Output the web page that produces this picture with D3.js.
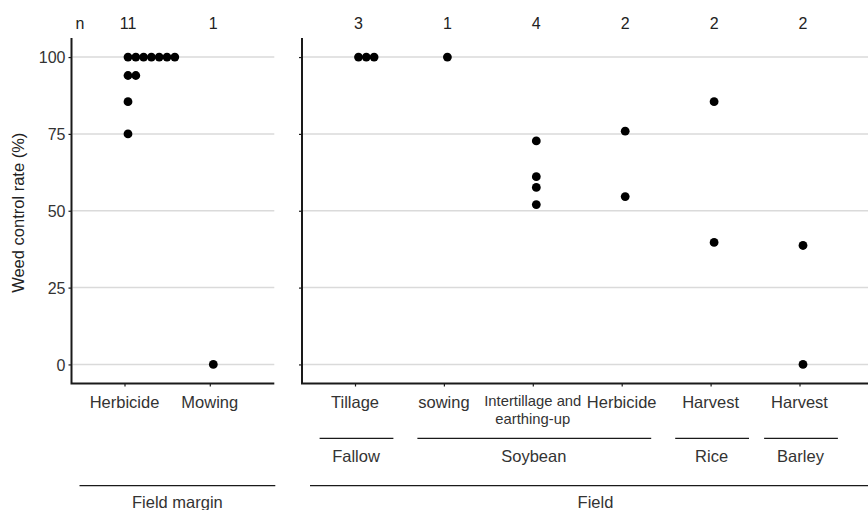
<!DOCTYPE html>
<html lang="en">
<head>
    <meta charset="UTF-8">
    <title>Weed control rate</title>
    <script src="https://cdn.jsdelivr.net/npm/d3@7"></script>
    <style>
    html, body { margin: 0; padding: 0; background: white; }
    svg { display: block; font-family: "Liberation Sans", Arial, sans-serif; }
    </style>
</head>
<body>
<div class="marco"></div>
<script>
// ---- data ----
const panelNames = ["Field margin", "Field"];

const marginLabels = ["Herbicide", "Mowing"];
const marginValues = [
    [100, 100, 100, 100, 100, 100, 100, 94, 94, 85.5, 75],
    [0]
];

const fieldLabels = ["Tillage", "sowing", "Intertillage and\nearthing-up", "Herbicide", "Harvest", "Harvest"];
const fieldValues = [
    [100, 100, 100],
    [100],
    [72.7, 61.1, 57.6, 52.0],
    [75.9, 54.6],
    [85.5, 39.7],
    [38.7, 0]
];

const groupNames = ["Fallow", "Soybean", "Rice", "Barley"];
const groupFirst = [0, 1, 4, 5];
const groupLast  = [0, 3, 4, 5];

const yTicks = [0, 25, 50, 75, 100];

// ---- layout ----
const width = 868, height = 510;
const plotTop = 38, plotBottom = 383.5;
const panels = [
    { x0: 71.5, x1: 274.3, step: 85.3, labels: marginLabels, values: marginValues },
    { x0: 302, x1: 880, step: 88.9, labels: fieldLabels, values: fieldValues }
];
const firstPad = 53;
const dotR = 4.4, dotGap = 7.8, dotShift = 3.5;
const axisColor = "#1a1a1a", textColor = "#333";

const svg = d3.select(".marco").append("svg")
    .attr("width", width)
    .attr("height", height);

const y = d3.scaleLinear().domain([-6.2, 106.2]).range([plotBottom, plotTop]);

// y axis title
svg.append("text")
    .attr("transform", `translate(24, ${(plotTop + plotBottom) / 2 + 2}) rotate(-90)`)
    .attr("text-anchor", "middle")
    .attr("font-size", 16.5)
    .attr("fill", "#222")
    .text("Weed control rate (%)");

// "n" header
svg.append("text")
    .attr("x", 80).attr("y", 29.3)
    .attr("text-anchor", "middle")
    .attr("font-size", 16)
    .attr("fill", "#222")
    .text("n");

panels.forEach((p, pi) => {
    const n = p.labels.length;
    const x = d3.scalePoint()
        .domain(d3.range(n))
        .range([p.x0 + firstPad, p.x0 + firstPad + p.step * (n - 1)]);

    const g = svg.append("g");

    // gridlines
    g.selectAll("line.grid")
        .data(yTicks)
        .enter().append("line")
        .attr("class", "grid")
        .attr("x1", p.x0 + 1).attr("x2", p.x1)
        .attr("y1", d => y(d)).attr("y2", d => y(d))
        .attr("stroke", "#dadada")
        .attr("stroke-width", 1.5);

    // y axis ticks (labels only on the first panel)
    const yAxis = d3.axisLeft(y).tickValues(yTicks).tickSize(3).tickSizeOuter(0).tickPadding(3);
    if (pi > 0) yAxis.tickFormat("");
    const ya = g.append("g")
        .attr("transform", `translate(${p.x0}, 0)`)
        .call(yAxis);
    ya.select(".domain").remove();
    ya.selectAll(".tick line").attr("stroke", axisColor).attr("stroke-width", 1.2);
    ya.selectAll(".tick text")
        .attr("font-size", 16)
        .attr("font-family", "Liberation Sans, Arial, sans-serif")
        .attr("fill", textColor)
        .attr("dy", "0.36em");

    // x axis ticks and labels
    const xa = g.append("g")
        .attr("transform", `translate(0, ${plotBottom})`)
        .call(d3.axisBottom(x).tickSize(3).tickSizeOuter(0).tickFormat(""));
    xa.select(".domain").remove();
    xa.selectAll(".tick line").attr("stroke", axisColor).attr("stroke-width", 1.2);

    p.labels.forEach((lab, i) => {
        const lines = lab.split("\n");
        const t = g.append("text")
            .attr("text-anchor", "middle")
            .attr("fill", textColor)
            .attr("font-size", lines.length > 1 ? 14.8 : 16.5);
        lines.forEach((ln, k) => {
            t.append("tspan")
                .attr("x", x(i))
                .attr("y", lines.length > 1 ? 406 + k * 17.5 : 408.3)
                .text(ln);
        });
    });

    // axis lines (L shape)
    g.append("path")
        .attr("d", `M${p.x0},${plotTop} V${plotBottom} H${p.x1}`)
        .attr("fill", "none")
        .attr("stroke", axisColor)
        .attr("stroke-width", 2);

    // n counts
    g.selectAll("text.n")
        .data(p.values)
        .enter().append("text")
        .attr("class", "n")
        .attr("x", (d, i) => x(i) + dotShift)
        .attr("y", 29.3)
        .attr("text-anchor", "middle")
        .attr("font-size", 16)
        .attr("fill", "#222")
        .text(d => d.length);

    // dots, stacked sideways when values repeat
    const dots = [];
    p.values.forEach((vals, i) => {
        const seen = {};
        vals.forEach(v => {
            const k = seen[v] || 0;
            seen[v] = k + 1;
            dots.push({ i: i, v: v, k: k });
        });
    });
    g.selectAll("circle")
        .data(dots)
        .enter().append("circle")
        .attr("cx", d => x(d.i) + dotShift + d.k * dotGap)
        .attr("cy", d => y(d.v))
        .attr("r", dotR)
        .attr("fill", "black");

    // sub-group brackets (Field panel only)
    if (pi === 1) {
        groupNames.forEach((name, gi) => {
            const cx = (x(groupFirst[gi]) + x(groupLast[gi])) / 2;
            const half = 0.415 * p.step + (groupLast[gi] - groupFirst[gi]) * 0.45 * p.step;
            g.append("line")
                .attr("x1", cx - half + 1.5).attr("x2", cx + half + 1.5)
                .attr("y1", 438.3).attr("y2", 438.3)
                .attr("stroke", axisColor).attr("stroke-width", 1.3);
            g.append("text")
                .attr("x", cx + 1)
                .attr("y", 461.7)
                .attr("text-anchor", "middle")
                .attr("font-size", 16.5)
                .attr("fill", textColor)
                .text(name);
        });
    }

    // panel bracket
    const la = p.x0 + 8, lb = p.x1 + 1;
    g.append("line")
        .attr("x1", la).attr("x2", lb)
        .attr("y1", 485.7).attr("y2", 485.7)
        .attr("stroke", axisColor).attr("stroke-width", 1.3);
    g.append("text")
        .attr("x", (la + lb) / 2)
        .attr("y", 508)
        .attr("text-anchor", "middle")
        .attr("font-size", 16.5)
        .attr("fill", textColor)
        .text(panelNames[pi]);
});
</script>
</body>
</html>
